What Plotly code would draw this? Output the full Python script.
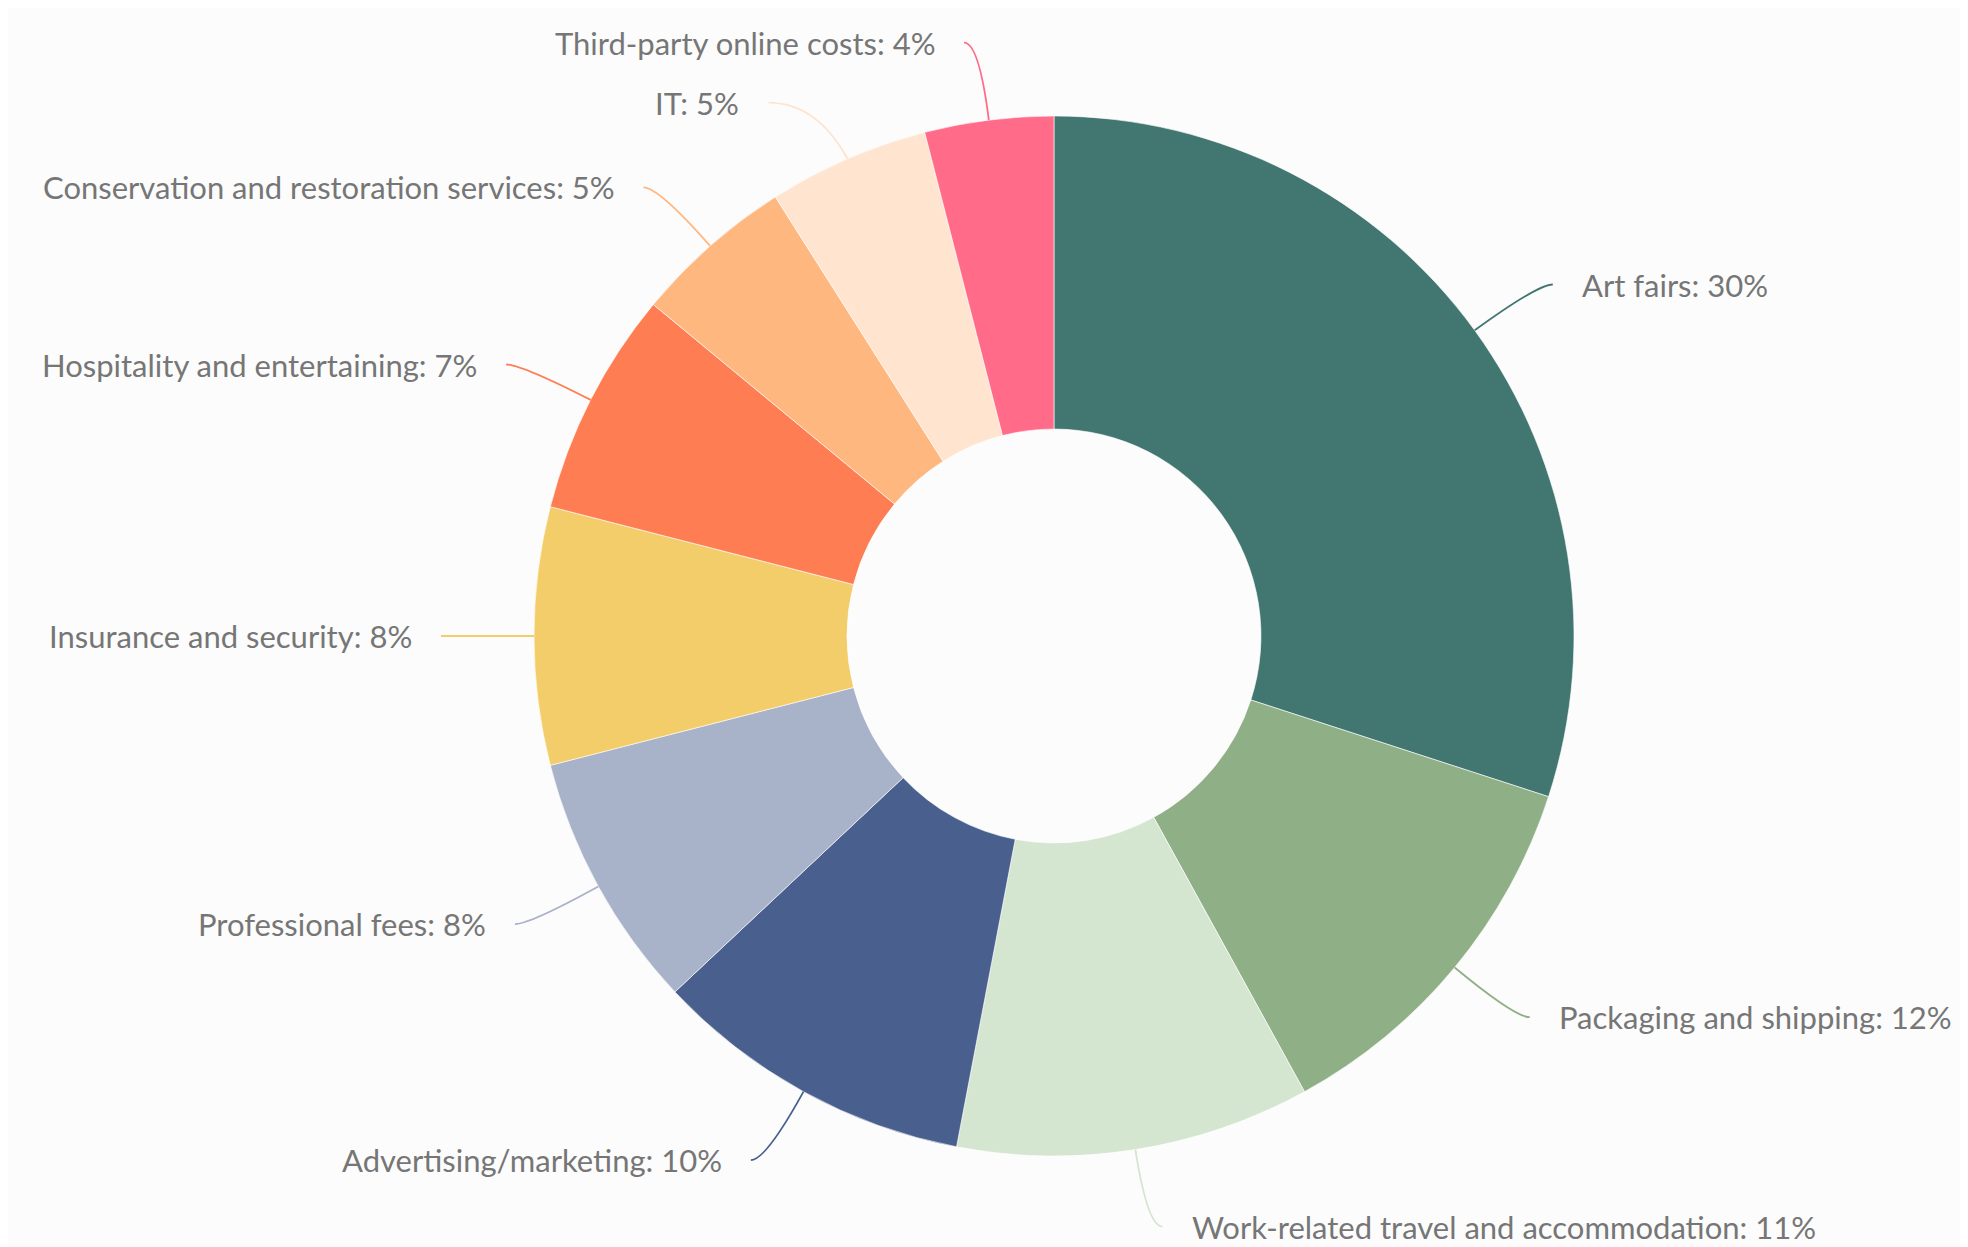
import math
import plotly.graph_objects as go

# ---- data ----
categories = [
    "Art fairs",
    "Packaging and shipping",
    "Work-related travel and accommodation",
    "Advertising/marketing",
    "Professional fees",
    "Insurance and security",
    "Hospitality and entertaining",
    "Conservation and restoration services",
    "IT",
    "Third-party online costs",
]
shares = [30, 12, 11, 10, 8, 8, 7, 5, 5, 4]
colors = [
    "#417671", "#8fb086", "#d4e5d0", "#49608f", "#a8b2c9",
    "#f3cd6a", "#ff7d52", "#ffb780", "#ffe4d0", "#ff6b88",
]

# ---- layout geometry (pixels) ----
PAGE_OFFSET = 8  # default body margin of the html page
W, H = 1968 - PAGE_OFFSET, 1247 - PAGE_OFFSET
CX, CY, R = 1054 - PAGE_OFFSET, 636 - PAGE_OFFSET, 520
HOLE = 0.398
L1, L2, GAP, MIN_SPACING = 78, 15, 27, 60
TEXT_COLOR = "#767676"
FONT = "Lato"
FONT_SIZE = 31


def px_to_paper(x, y):
    return x / W, 1 - y / H


fig = go.Figure()
fig.add_trace(go.Pie(
    labels=categories,
    values=shares,
    sort=False,
    direction="clockwise",
    rotation=0,
    hole=HOLE,
    textinfo="none",
    hoverinfo="label+percent",
    marker=dict(colors=colors, line=dict(color="#ffffff", width=0.6)),
    showlegend=False,
    domain=dict(x=[(CX - R) / W, (CX + R) / W], y=[1 - (CY + R) / H, 1 - (CY - R) / H]),
))

# ---- label layout computed from the data ----
total = float(sum(shares))
items = []
cum = 0.0
for name, v, c in zip(categories, shares, colors):
    mid = (cum + v / 2) / total * 2 * math.pi
    cum += v
    s, co = math.sin(mid), math.cos(mid)
    p0 = (CX + R * s, CY - R * co)
    e = (CX + (R + L1) * s, CY - (R + L1) * co)
    side = 1 if s >= 0 else -1
    items.append(dict(name=name, v=v, c=c, p0=p0, ex=e[0], ey=e[1], side=side, y=e[1], shifted=False))

for side in (1, -1):
    lst = sorted([it for it in items if it["side"] == side], key=lambda it: it["y"])
    last = None
    for it in lst:
        if last is not None and it["y"] < last + MIN_SPACING:
            it["y"] = last + MIN_SPACING
            it["shifted"] = True
        last = it["y"]

rA = R + L1
for it in items:
    if it["shifted"]:
        dy = abs(it["y"] - CY)
        dx = math.sqrt(max(rA * rA - dy * dy, 0.0))
        tx = CX + it["side"] * (dx + L2)
    else:
        tx = it["ex"] + it["side"] * L2
    ex, ey = it["ex"], it["y"]
    x0, y0 = px_to_paper(*it["p0"])
    xe, ye = px_to_paper(ex, ey)
    xt, yt = px_to_paper(tx, ey)
    fig.add_shape(
        type="path",
        xref="paper", yref="paper",
        path=f"M {x0} {y0} Q {xe} {ye} {xt} {yt}",
        line=dict(color=it["c"], width=1.8),
        fillcolor="rgba(0,0,0,0)",
    )
    ax, ay = px_to_paper(tx + it["side"] * GAP, ey)
    fig.add_annotation(
        x=ax, y=ay, xref="paper", yref="paper",
        text=f"{it['name']}: {it['v']}%",
        showarrow=False,
        xanchor="left" if it["side"] == 1 else "right",
        yanchor="middle",
        font=dict(family=FONT, size=FONT_SIZE, color=TEXT_COLOR),
    )

fig.update_layout(
    width=W, height=H,
    margin=dict(l=0, r=0, t=0, b=0),
    paper_bgcolor="#fcfcfc",
    plot_bgcolor="#fcfcfc",
)

fig.write_html("out.html")
